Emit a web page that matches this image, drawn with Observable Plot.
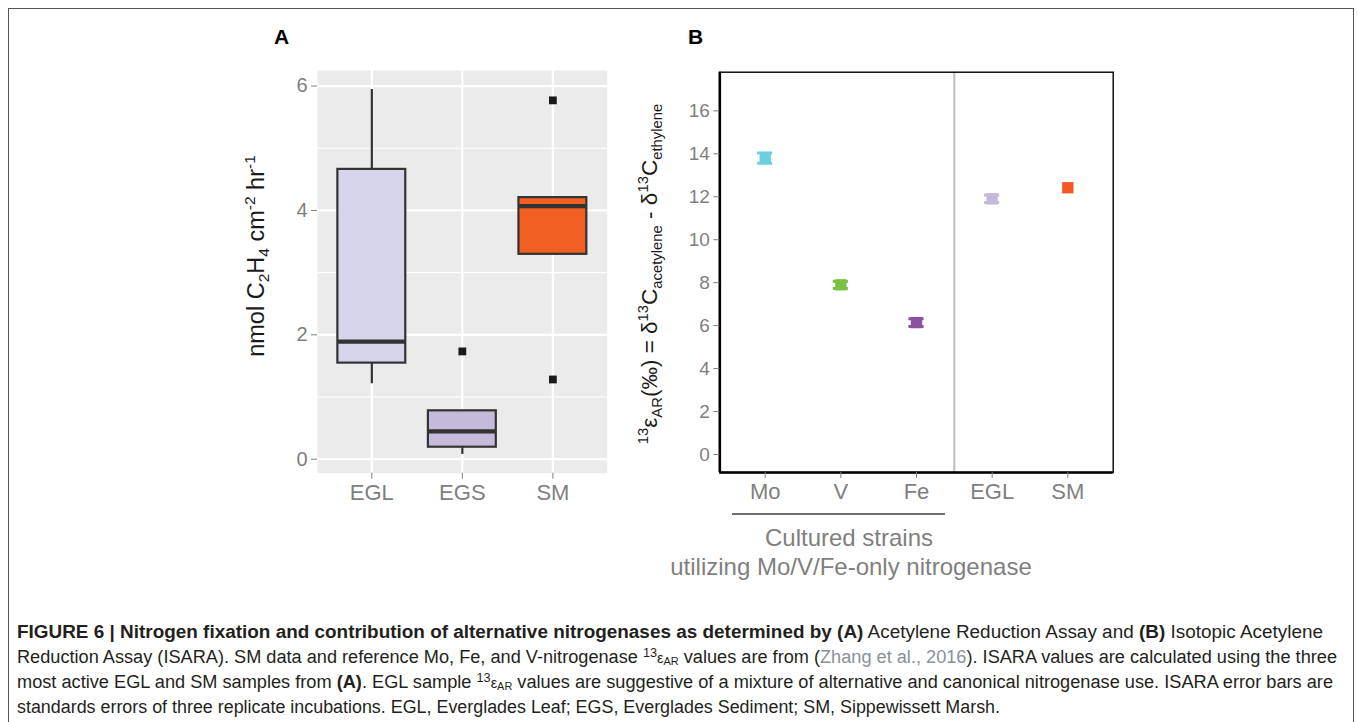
<!DOCTYPE html>
<html><head><meta charset="utf-8">
<script src="https://cdn.jsdelivr.net/npm/d3@7"></script>
<script src="https://cdn.jsdelivr.net/npm/@observablehq/plot@0.6"></script>
<style>
body{margin:0;background:#fff;font-family:"Liberation Sans",Arial,sans-serif;}
#fig{position:relative;width:1358px;height:722px;overflow:hidden;background:#fff;}
.abs{position:absolute;white-space:nowrap;line-height:1;}
.border{position:absolute;left:8px;top:8px;width:1346px;height:800px;border:1px solid #555;box-sizing:border-box;}
.plab{font-weight:bold;font-size:21px;color:#000;}
.ytitle{transform:translate(-50%,-50%) rotate(-90deg);color:#1a1a1a;font-size:22px;}
.sup{font-size:0.66em;vertical-align:0.58em;line-height:0;}
.sub{font-size:0.66em;vertical-align:-0.32em;line-height:0;}
.grp{font-size:24px;color:#7f7f7f;transform:translateX(-50%);}
.cap{font-family:"Liberation Sans Narrow","Liberation Sans",Arial,sans-serif;font-size:18px;color:#231f20;transform-origin:0 0;}
.cap b{font-weight:bold;}
.link{color:#8a8f99;}
.cap .sup{font-size:0.7em;vertical-align:0.5em;}
.cap .sub{font-size:0.6em;vertical-align:-0.2em;}
.cap .eps{font-size:0.8em;}
</style></head><body><div id="fig"></div>
<script>
// ---------- Panel A: acetylene reduction (box plot summaries) ----------
const sitesA = ["EGL", "EGS", "SM"];
const boxQ1 = [1.545, 0.193, 3.294];
const boxMedian = [1.889, 0.446, 4.07];
const boxQ3 = [4.66, 0.778, 4.206];
const whiskerLow = [1.213, 0.076, 3.294];
const whiskerHigh = [5.944, 0.778, 4.206];
const boxFill = ["#d6d4ea", "#c5b9dc", "#f15f22"];
const outlierSite = ["EGS", "SM", "SM"];
const outlierValue = [1.733, 5.77, 1.282];
const yTicksA = [0, 2, 4, 6];
const yMinorA = [1, 3, 5];
const yDomainA = [-0.225, 6.25];

// ---------- Panel B: ISARA 13eps_AR ----------
const groupsB = ["Mo", "V", "Fe", "EGL", "SM"];
const culturedB = ["Mo", "V", "Fe"];
const epsMean = [13.8, 7.9, 6.14, 11.9, 12.42];
const epsLow = [13.56, 7.73, 5.96, 11.73, null];
const epsHigh = [14.04, 8.06, 6.32, 12.08, null];
const colorsB = ["#6ccfdf", "#7ac143", "#8b52a1", "#c3b9db", "#f15a24"];
const yTicksB = [0, 2, 4, 6, 8, 10, 12, 14, 16];
const yDomainB = [-0.84, 17.8];

const fig = document.getElementById("fig");
const FONT = "'Liberation Sans', Arial, sans-serif";

function add(html, cls, style) {
  const d = document.createElement("div");
  d.className = "abs " + (cls || "");
  d.setAttribute("style", style || "");
  d.innerHTML = html;
  fig.appendChild(d);
  return d;
}

add("", "border", "");

// ---- Panel A ----
const boxWidth = 0.75;
const boxes = sitesA.map((site, i) => ({
  site, pos: i + 1, q1: boxQ1[i], med: boxMedian[i], q3: boxQ3[i],
  lo: whiskerLow[i], hi: whiskerHigh[i], fill: boxFill[i]
}));
const outliers = outlierSite.map((s, i) => ({pos: sitesA.indexOf(s) + 1, value: outlierValue[i]}));

const plotA = Plot.plot({
  width: 400, height: 520,
  marginLeft: 97, marginRight: 13.3, marginTop: 70, marginBottom: 47.3,
  style: {fontFamily: FONT, fontSize: "19px", color: "#7f7f7f", background: "transparent", overflow: "visible"},
  x: {domain: [0.4, sitesA.length + 0.6]},
  y: {domain: yDomainA},
  color: {type: "identity"},
  marks: [
    Plot.frame({fill: "#ebebeb", stroke: "none"}),
    Plot.ruleY(yMinorA, {stroke: "#fff", strokeWidth: 1.1}),
    Plot.ruleY(yTicksA, {stroke: "#fff", strokeWidth: 2.2}),
    Plot.ruleX(boxes, {x: "pos", stroke: "#fff", strokeWidth: 2.2}),
    Plot.ruleX(boxes.filter(d => d.hi > d.q3), {x: "pos", y1: "q3", y2: "hi", stroke: "#333", strokeWidth: 2.2}),
    Plot.ruleX(boxes.filter(d => d.lo < d.q1), {x: "pos", y1: "lo", y2: "q1", stroke: "#333", strokeWidth: 2.2}),
    Plot.rect(boxes, {x1: d => d.pos - boxWidth / 2, x2: d => d.pos + boxWidth / 2, y1: "q1", y2: "q3", fill: "fill", stroke: "#333", strokeWidth: 2.2}),
    Plot.ruleY(boxes, {x1: d => d.pos - boxWidth / 2, x2: d => d.pos + boxWidth / 2, y: "med", stroke: "#333", strokeWidth: 4.2}),
    Plot.dot(outliers, {x: "pos", y: "value", symbol: "square", r: 4.4, fill: "#1a1a1a", stroke: "none"}),
    Plot.axisY(yTicksA, {tickSize: 6, tickPadding: 4, tickFormat: d => String(d), fontSize: 20, label: null, color: "#7f7f7f"}),
    Plot.axisX(boxes.map(d => d.pos), {tickSize: 6, tickPadding: 5, tickFormat: i => sitesA[i - 1], fontSize: 22, label: null, color: "#7f7f7f"})
  ]
});
plotA.style.position = "absolute";
plotA.style.left = "220px";
plotA.style.top = "0px";
fig.appendChild(plotA);

// ---- Panel B ----
const pointsB = groupsB.map((g, i) => ({group: g, pos: i + 1, mean: epsMean[i], lo: epsLow[i], hi: epsHigh[i], color: colorsB[i]}));
const errB = pointsB.filter(d => d.lo != null);
const capHalf = 0.1;
const xDomainB = [0.4, groupsB.length + 0.6];
const separator = culturedB.length + 0.5;

const plotB = Plot.plot({
  width: 540, height: 600,
  marginLeft: 99.3, marginRight: 47.3, marginTop: 71.7, marginBottom: 128,
  style: {fontFamily: FONT, fontSize: "19px", color: "#7f7f7f", background: "transparent", overflow: "visible"},
  x: {domain: xDomainB},
  y: {domain: yDomainB},
  color: {type: "identity"},
  marks: [
    Plot.ruleX([separator], {stroke: "#bdbdbd", strokeWidth: 2}),
    Plot.frame({stroke: "#000", strokeWidth: 1.4}),
    Plot.ruleX([xDomainB[0]], {stroke: "#000", strokeWidth: 2.6}),
    Plot.ruleY([yDomainB[0]], {stroke: "#000", strokeWidth: 2.6}),
    Plot.ruleX(errB, {x: "pos", y1: "lo", y2: "hi", stroke: "color", strokeWidth: 3}),
    Plot.ruleY(errB, {x1: d => d.pos - capHalf, x2: d => d.pos + capHalf, y: "lo", stroke: "color", strokeWidth: 3}),
    Plot.ruleY(errB, {x1: d => d.pos - capHalf, x2: d => d.pos + capHalf, y: "hi", stroke: "color", strokeWidth: 3}),
    Plot.dot(pointsB, {x: "pos", y: "mean", symbol: "square", r: 6.4, fill: "color", stroke: "none"}),
    Plot.axisY(yTicksB, {tickSize: 6, tickPadding: 4, label: null, color: "#7f7f7f"}),
    Plot.axisX(pointsB.map(d => d.pos), {tickSize: 6, tickPadding: 5, tickFormat: i => groupsB[i - 1], fontSize: 22, label: null, color: "#7f7f7f"})
  ]
});
plotB.style.position = "absolute";
plotB.style.left = "620px";
plotB.style.top = "0px";
fig.appendChild(plotB);

// ---- Text ----
add("A", "plab", "left:274px;top:25.5px;");
add("B", "plab", "left:688px;top:25.5px;");

add('nmol C<span class="sub">2</span>H<span class="sub">4</span> cm<span class="sup">-2</span> hr<span class="sup">-1</span>', "ytitle", "left:257px;top:256px;font-size:23.5px;");
add('<span class="sup">13</span>ε<span class="sub">AR</span>(‰) = δ<span class="sup">13</span>C<span class="sub">acetylene</span> - δ<span class="sup">13</span>C<span class="sub">ethylene</span>', "ytitle", "left:650px;top:274px;font-size:22.5px;");

add("", "", "left:732px;top:513px;width:213px;height:2px;background:#6e6e6e;");
add("Cultured strains", "grp", "left:849px;top:525.7px;");
add("utilizing Mo/V/Fe-only nitrogenase", "grp", "left:851px;top:554.7px;");

const capLines = [
  ['<b>FIGURE 6 | Nitrogen fixation and contribution of alternative nitrogenases as determined by (A)</b> Acetylene Reduction Assay and <b>(B)</b> Isotopic Acetylene', 1306, 638],
  ['Reduction Assay (ISARA). SM data and reference Mo, Fe, and V-nitrogenase <span class="sup">13</span><span class="eps">ε</span><span class="sub">AR</span> values are from (<span class="link">Zhang et al., 2016</span>). ISARA values are calculated using the three', 1320, 663],
  ['most active EGL and SM samples from <b>(A)</b>. EGL sample <span class="sup">13</span><span class="eps">ε</span><span class="sub">AR</span> values are suggestive of a mixture of alternative and canonical nitrogenase use. ISARA error bars are', 1316, 688],
  ['standards errors of three replicate incubations. EGL, Everglades Leaf; EGS, Everglades Sediment; SM, Sippewissett Marsh.', 983, 713]
];
capLines.forEach(([html, target, base]) => {
  const d = add(html, "cap", `left:17px;top:${base - 0.85 * 18}px;`);
  const w = d.getBoundingClientRect().width;
  d.style.transform = `scaleX(${target / w})`;
});
</script></body></html>
